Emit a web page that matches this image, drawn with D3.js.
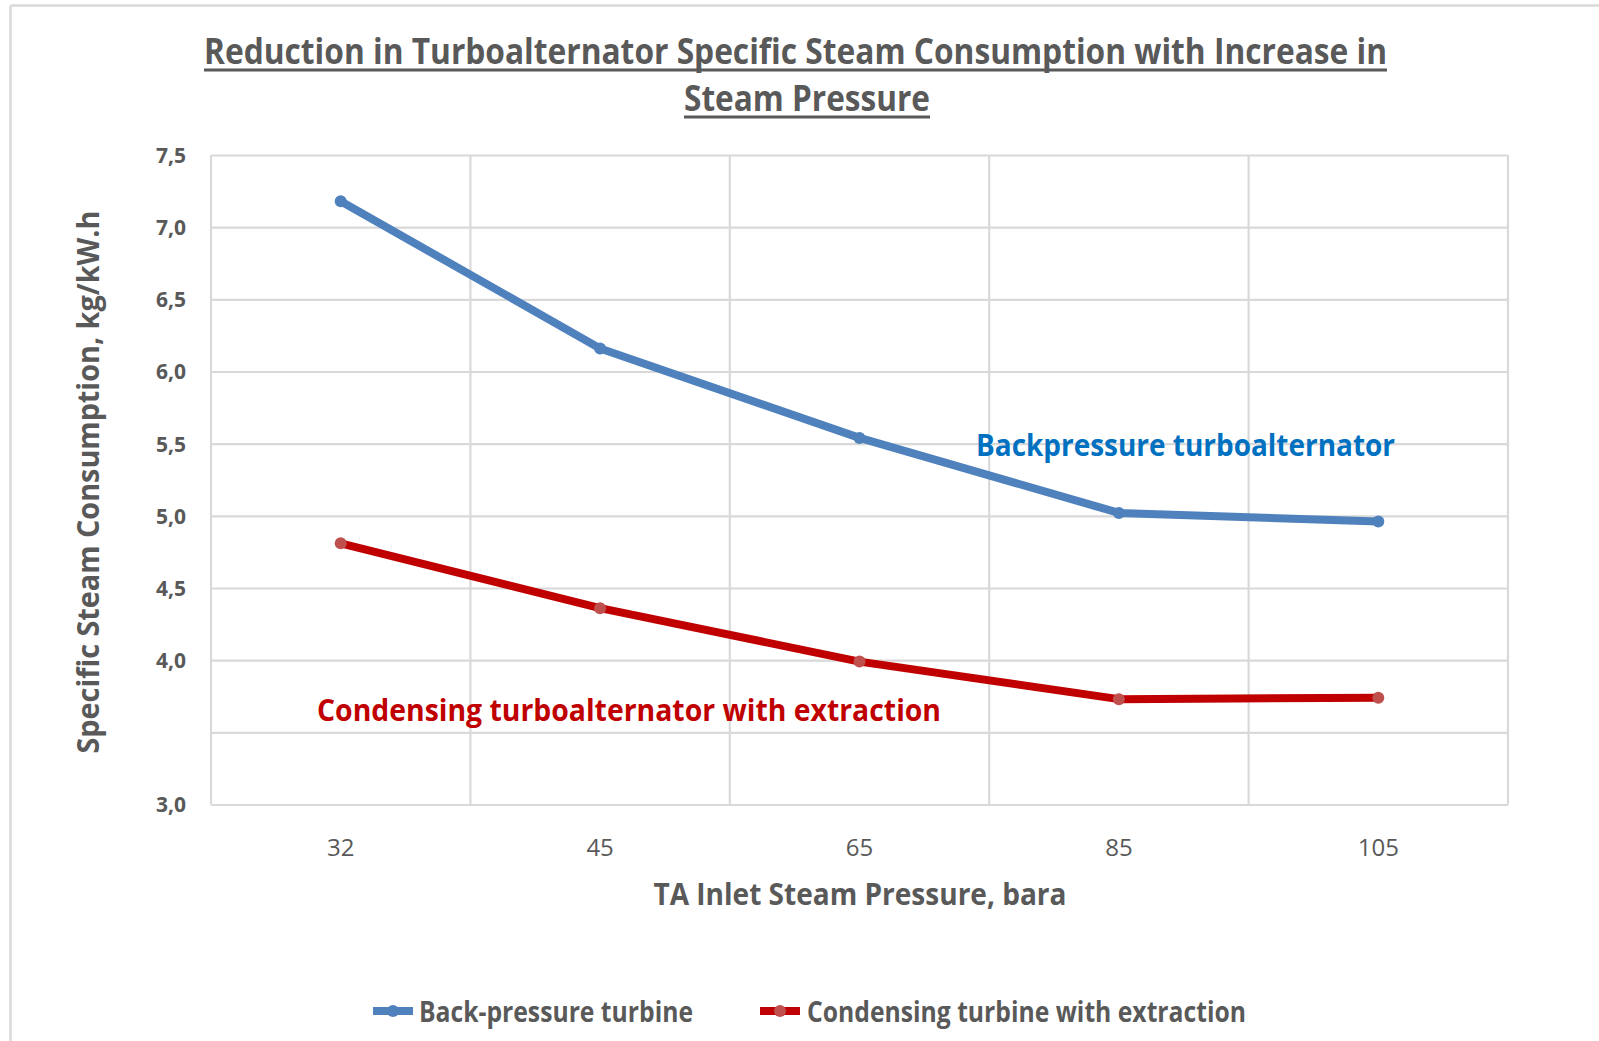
<!DOCTYPE html>
<html>
<head>
<meta charset="utf-8">
<script src="https://cdn.jsdelivr.net/npm/d3@7"></script>
<style>
  html, body { margin: 0; padding: 0; background: #ffffff; }
  svg { display: block; }
  text { font-family: "Open Sans", "Noto Sans", sans-serif; }
</style>
</head>
<body>
<svg id="chart" width="1599" height="1041"></svg>
<script>
// ---- Data ----
const categories = ["32", "45", "65", "85", "105"];
const backPressure = [7.18, 6.16, 5.54, 5.02, 4.96];
const condensing = [4.81, 4.36, 3.99, 3.73, 3.74];
const yTickValues = [3.0, 3.5, 4.0, 4.5, 5.0, 5.5, 6.0, 6.5, 7.0, 7.5];
const yTickLabels = ["3,0", "", "4,0", "4,5", "5,0", "5,5", "6,0", "6,5", "7,0", "7,5"];
const seriesNames = ["Back-pressure turbine", "Condensing turbine with extraction"];
const titleLines = ["Reduction in Turboalternator Specific Steam Consumption with Increase in", "Steam Pressure"];

// ---- Layout ----
const svg = d3.select("#chart");
const W = 1599, H = 1041;
const plot = { left: 211, right: 1508, top: 155, bottom: 804.5 };
const textGray = "#595959";
const gridColor = "#d9d9d9";
const blue = "#4f81bd", redLine = "#c00000", redMarker = "#c0504d";

svg.append("rect").attr("width", W).attr("height", H).attr("fill", "#fff");
// outer chart frame (cropped: only top and left visible)
svg.append("line").attr("x1", 10.5).attr("x2", W).attr("y1", 5.5).attr("y2", 5.5)
  .attr("stroke", gridColor).attr("stroke-width", 2.5);
svg.append("line").attr("x1", 10.5).attr("x2", 10.5).attr("y1", 5.5).attr("y2", H)
  .attr("stroke", gridColor).attr("stroke-width", 2.5);

const x = d3.scaleBand().domain(categories).range([plot.left, plot.right]).padding(0);
const y = d3.scaleLinear().domain([3.0, 7.5]).range([plot.bottom, plot.top]);

// horizontal grid
const gy = svg.append("g").attr("transform", `translate(${plot.left},0)`)
  .call(d3.axisLeft(y).tickValues(yTickValues).tickSize(-(plot.right - plot.left)).tickFormat(""));
gy.select(".domain").remove();
gy.selectAll(".tick line").attr("stroke", gridColor).attr("stroke-width", 2.2);

// vertical grid at band boundaries
const boundaries = categories.map(c => x(c)).concat([plot.right]);
svg.append("g").selectAll("line").data(boundaries).join("line")
  .attr("x1", d => d).attr("x2", d => d)
  .attr("y1", plot.top).attr("y2", plot.bottom)
  .attr("stroke", gridColor).attr("stroke-width", 2.2);

// y tick labels
const yLab = svg.append("g").attr("transform", `translate(186,0)`)
  .call(d3.axisLeft(y).tickValues(yTickValues).tickSize(0).tickPadding(0)
    .tickFormat((d, i) => yTickLabels[i]));
yLab.select(".domain").remove();
yLab.selectAll("text").attr("fill", textGray).style("font-size", "21px").style("font-weight", "700")
  .style("font-family", "'Open Sans', sans-serif").attr("dy", "0.35em");

// x tick labels
const xLab = svg.append("g").attr("transform", `translate(0,${plot.bottom})`)
  .call(d3.axisBottom(x).tickSize(0).tickPadding(0));
xLab.select(".domain").remove();
xLab.selectAll("text").attr("fill", textGray).style("font-size", "24px")
  .style("font-family", "'Open Sans', sans-serif").attr("y", 43).attr("dy", "0.35em");

// lines
const cx = d => x(d) + x.bandwidth() / 2;
const lineGen = d3.line().x((d, i) => cx(categories[i])).y(d => y(d));
function drawSeries(vals, lineColor, markerColor) {
  svg.append("path").datum(vals).attr("d", lineGen).attr("fill", "none")
    .attr("stroke", lineColor).attr("stroke-width", 8).attr("stroke-linejoin", "round");
  svg.append("g").selectAll("circle").data(vals).join("circle")
    .attr("cx", (d, i) => cx(categories[i])).attr("cy", d => y(d)).attr("r", 6)
    .attr("fill", markerColor);
}
drawSeries(backPressure, blue, blue);
drawSeries(condensing, redLine, redMarker);

// title
const title = svg.append("g");
title.append("text").attr("x", 795.5).attr("y", 64).attr("text-anchor", "middle")
  .attr("fill", textGray).style("font-size", "36px").style("font-weight", "700")
  .attr("textLength", 1183).attr("lengthAdjust", "spacingAndGlyphs").text(titleLines[0]);
title.append("rect").attr("x", 204).attr("y", 68.5).attr("width", 1183).attr("height", 3).attr("fill", textGray);
title.append("text").attr("x", 807).attr("y", 111).attr("text-anchor", "middle")
  .attr("fill", textGray).style("font-size", "36px").style("font-weight", "700")
  .attr("textLength", 246).attr("lengthAdjust", "spacingAndGlyphs").text(titleLines[1]);
title.append("rect").attr("x", 684).attr("y", 115.5).attr("width", 246).attr("height", 3).attr("fill", textGray);

// axis titles
svg.append("text").attr("x", 860).attr("y", 894).attr("dy", "0.35em").attr("text-anchor", "middle")
  .attr("fill", textGray).style("font-size", "30px").style("font-weight", "700")
  .attr("textLength", 413).attr("lengthAdjust", "spacingAndGlyphs")
  .text("TA Inlet Steam Pressure, bara");
svg.append("text").attr("transform", "translate(88,482) rotate(-90)").attr("dy", "0.35em")
  .attr("text-anchor", "middle").attr("fill", textGray).style("font-size", "30px").style("font-weight", "700")
  .attr("textLength", 543).attr("lengthAdjust", "spacingAndGlyphs")
  .text("Specific Steam Consumption, kg/kW.h");

// annotations
svg.append("text").attr("x", 976).attr("y", 445).attr("dy", "0.35em")
  .attr("fill", "#0070c0").style("font-size", "30px").style("font-weight", "700")
  .attr("textLength", 419).attr("lengthAdjust", "spacingAndGlyphs")
  .text("Backpressure turboalternator");
svg.append("text").attr("x", 317).attr("y", 710).attr("dy", "0.35em")
  .attr("fill", "#c00000").style("font-size", "30px").style("font-weight", "700")
  .attr("textLength", 624).attr("lengthAdjust", "spacingAndGlyphs")
  .text("Condensing turboalternator with extraction");

// legend
const legend = [
  { name: seriesNames[0], line: blue, marker: blue, x0: 373, tx: 419, tw: 274 },
  { name: seriesNames[1], line: redLine, marker: redMarker, x0: 760, tx: 807, tw: 439 }
];
const lg = svg.append("g").selectAll("g").data(legend).join("g");
lg.append("line").attr("x1", d => d.x0).attr("x2", d => d.x0 + 40).attr("y1", 1011).attr("y2", 1011)
  .attr("stroke", d => d.line).attr("stroke-width", 8);
lg.append("circle").attr("cx", d => d.x0 + 20).attr("cy", 1011).attr("r", 6).attr("fill", d => d.marker);
lg.append("text").attr("x", d => d.tx).attr("y", 1012).attr("dy", "0.35em")
  .attr("fill", textGray).style("font-size", "28px").style("font-weight", "700")
  .attr("textLength", d => d.tw).attr("lengthAdjust", "spacingAndGlyphs")
  .text(d => d.name);
</script>
</body>
</html>
